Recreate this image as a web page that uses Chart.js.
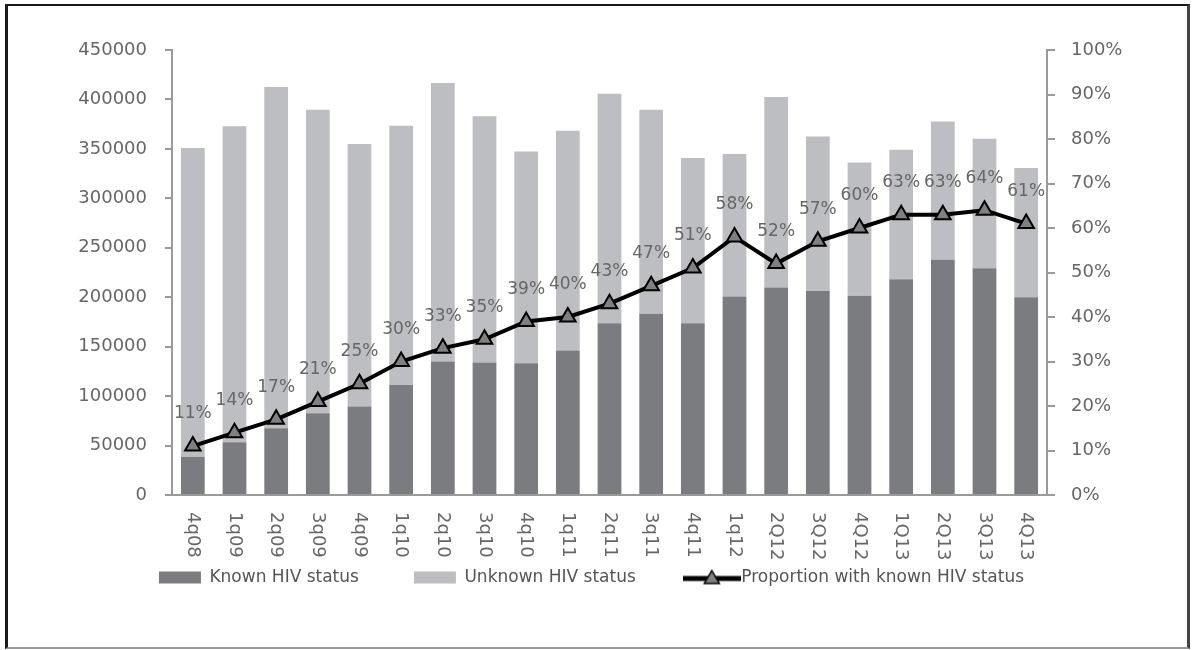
<!DOCTYPE html>
<html>
<head>
<meta charset="utf-8">
<script src="https://cdn.jsdelivr.net/npm/chart.js@4.4.1/dist/chart.umd.min.js"></script>
<style>
  html, body { margin: 0; padding: 0; background: #fff; overflow: hidden; }
  #wrap { position: relative; width: 1193px; height: 650px; }
  #hivChart { position: absolute; left: 0; top: 0; }
  #frame {
    position: absolute; left: 5px; top: 4px; width: 1185px; height: 645px;
    box-sizing: border-box; pointer-events: none;
    border-top: 2px solid #1a1a1a; border-left: 3px solid #1a1a1a;
    border-right: 3px solid #444; border-bottom: 2px solid #999;
  }
</style>
</head>
<body>
<div id="wrap">
  <canvas id="hivChart" width="1193" height="650"></canvas>
  <div id="frame"></div>
</div>
<script>
// Data
const quarters = ['4q08', '1q09', '2q09', '3q09', '4q09', '1q10', '2q10', '3q10', '4q10', '1q11', '2q11',
                  '3q11', '4q11', '1q12', '2Q12', '3Q12', '4Q12', '1Q13', '2Q13', '3Q13', '4Q13'];
const knownStatus   = [38800, 53300, 67500, 82700, 89400, 111300, 134900, 133900, 133300, 146100, 173700,
                       183200, 173700, 200700, 209800, 206400, 201400, 218200, 237800, 229400, 200000];
const unknownStatus = [312100, 319500, 345100, 306900, 265500, 262100, 281700, 249000, 214100, 222300, 232100,
                       206400, 167000, 144100, 192600, 156200, 134900, 130900, 140000, 130900, 130600];
const proportionKnown = [11, 14, 17, 21, 25, 30, 33, 35, 39, 40, 43, 47, 51, 58, 52, 57, 60, 63, 63, 64, 61];

const FONT = "'DejaVu Sans', sans-serif";
const DARK_BAR  = '#7b7c80';
const LIGHT_BAR = '#bdbec2';
const AXIS_GREY = '#9a9a9a';
const TEXT_GREY = '#666';

// legend icon for the line series: thick line with a triangle marker
function makeLineIcon() {
  const c = document.createElement('canvas');
  c.width = 58; c.height = 18;
  const g = c.getContext('2d');
  g.strokeStyle = '#000';
  g.lineWidth = 5;
  g.beginPath(); g.moveTo(0, 10); g.lineTo(58, 10); g.stroke();
  g.fillStyle = '#808080';
  g.lineWidth = 1.5;
  g.beginPath(); g.moveTo(29, 2); g.lineTo(36.5, 15); g.lineTo(21.5, 15); g.closePath();
  g.fill(); g.stroke();
  return c;
}
const lineIcon = makeLineIcon();

// percentage labels above the line points
const pointLabels = {
  id: 'pointLabels',
  afterDatasetsDraw(chart) {
    const meta = chart.getDatasetMeta(2);
    const ctx = chart.ctx;
    ctx.save();
    ctx.font = '17px ' + FONT;
    ctx.fillStyle = TEXT_GREY;
    ctx.textAlign = 'center';
    ctx.textBaseline = 'middle';
    meta.data.forEach((pt, i) => {
      ctx.fillText(proportionKnown[i] + '%', pt.x, pt.y - 32);
    });
    ctx.restore();
  }
};

// x labels read top-to-bottom (rotated clockwise)
const verticalXLabels = {
  id: 'verticalXLabels',
  afterDraw(chart) {
    const xs = chart.scales.x;
    const ctx = chart.ctx;
    ctx.save();
    ctx.font = '18px ' + FONT;
    ctx.fillStyle = TEXT_GREY;
    ctx.textAlign = 'left';
    ctx.textBaseline = 'middle';
    quarters.forEach((q, i) => {
      ctx.save();
      ctx.translate(xs.getPixelForTick(i), chart.chartArea.bottom + 17);
      ctx.rotate(Math.PI / 2);
      ctx.fillText(q, 0, 0);
      ctx.restore();
    });
    ctx.restore();
  }
};

// push legend row to where the reference has it
const legendShift = {
  id: 'legendShift',
  afterLayout(chart) {
    const lg = chart.legend;
    const dy = 514 - lg.top;
    lg.top += dy;
    lg.bottom += dy;
    lg.left -= 5;
    lg.right -= 5;
  }
};

new Chart(document.getElementById('hivChart'), {
  data: {
    labels: quarters,
    datasets: [
      {
        type: 'bar',
        label: 'Known HIV status',
        data: knownStatus,
        backgroundColor: DARK_BAR,
        yAxisID: 'y',
        order: 1,
        barPercentage: 0.57,
        categoryPercentage: 1.0,
      },
      {
        type: 'bar',
        label: 'Unknown HIV status',
        data: unknownStatus,
        backgroundColor: LIGHT_BAR,
        yAxisID: 'y',
        order: 2,
        barPercentage: 0.57,
        categoryPercentage: 1.0,
      },
      {
        type: 'line',
        label: 'Proportion with known HIV status',
        data: proportionKnown,
        yAxisID: 'y1',
        order: 0,
        borderColor: '#000',
        borderWidth: 4,
        tension: 0,
        pointStyle: 'triangle',
        pointRadius: 9,
        pointBackgroundColor: '#808080',
        pointBorderColor: '#000',
        pointBorderWidth: 2,
      },
    ],
  },
  options: {
    responsive: false,
    animation: false,
    layout: { padding: { left: 0, right: 0, top: 50, bottom: 49 } },
    plugins: {
      tooltip: { enabled: false },
      legend: {
        position: 'bottom',
        labels: {
          usePointStyle: true,
          pointStyleWidth: 42,
          boxHeight: 12,
          padding: 55,
          color: '#555',
          font: { size: 17, family: FONT },
          sort: (a, b) => a.datasetIndex - b.datasetIndex,
          generateLabels(chart) {
            const items = Chart.defaults.plugins.legend.labels.generateLabels(chart);
            items.forEach(it => {
              if (it.datasetIndex === 2) {
                it.pointStyle = lineIcon;
              } else {
                it.pointStyle = 'rect';
                it.lineWidth = 0;
              }
            });
            return items;
          },
        },
      },
    },
    scales: {
      x: {
        stacked: true,
        grid: { display: false },
        border: { display: true, color: AXIS_GREY, width: 2 },
        ticks: { display: false },
        afterFit: (s) => { s.height = 24; },
      },
      y: {
        position: 'left',
        stacked: true,
        min: 0,
        max: 450000,
        grid: { drawOnChartArea: false, drawTicks: true, tickLength: 7, color: AXIS_GREY, lineWidth: 2 },
        border: { display: true, color: AXIS_GREY, width: 2 },
        ticks: {
          stepSize: 50000,
          padding: 18,
          color: TEXT_GREY,
          font: { size: 18, family: FONT },
          callback: (v) => String(v),
        },
        afterFit: (s) => { s.width = 172; },
      },
      y1: {
        position: 'right',
        min: 0,
        max: 100,
        grid: { drawOnChartArea: false, drawTicks: true, tickLength: 8, color: AXIS_GREY, lineWidth: 2 },
        border: { display: true, color: AXIS_GREY, width: 2 },
        ticks: {
          stepSize: 10,
          padding: 16,
          color: TEXT_GREY,
          font: { size: 18, family: FONT },
          callback: (v) => v + '%',
        },
        afterFit: (s) => { s.width = 146; },
      },
    },
  },
  plugins: [pointLabels, verticalXLabels, legendShift],
});
</script>
</body>
</html>
